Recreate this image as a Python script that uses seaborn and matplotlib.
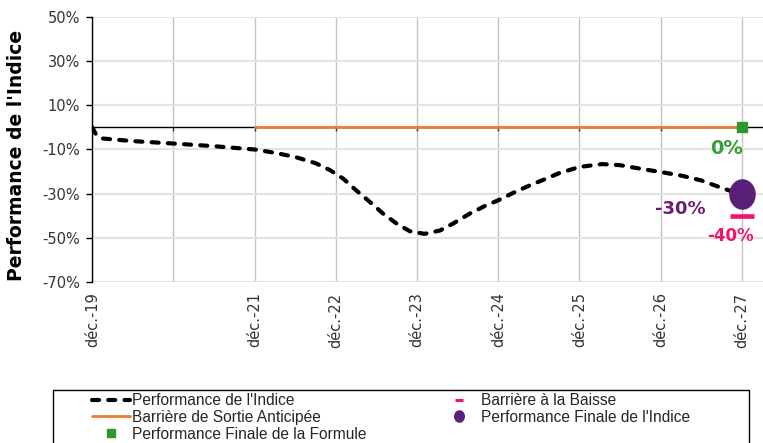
import numpy as np
import pandas as pd
import matplotlib
matplotlib.use("Agg")
import matplotlib.pyplot as plt
import seaborn as sns
from matplotlib.path import Path
from matplotlib.lines import Line2D
from matplotlib.patches import Rectangle
from matplotlib.ticker import FuncFormatter

# ---------------- data ----------------
index_dates = [2019.00, 2019.05, 2019.12, 2019.50, 2020.00, 2020.50, 2021.00, 2021.25,
               2021.50, 2021.75, 2021.93, 2022.09, 2022.25, 2022.42, 2022.58, 2022.75,
               2022.91, 2023.09, 2023.28, 2023.44, 2023.65, 2023.85, 2024.00, 2024.18,
               2024.39, 2024.55, 2024.75, 2025.00, 2025.28, 2025.50, 2025.75, 2026.00,
               2026.25, 2026.50, 2026.75, 2026.88]
index_perf = [0.0, -3.5, -5.0, -6.2, -7.3, -8.5, -10.0, -11.5,
              -13.4, -16.2, -19.4, -23.2, -28.5, -33.8, -39.0, -43.6,
              -47.0, -48.2, -46.7, -43.6, -39.0, -35.3, -33.0, -29.7,
              -26.2, -23.8, -20.7, -17.9, -16.6, -17.1, -18.7, -20.2,
              -21.8, -24.0, -27.4, -29.0]
exit_barrier_dates = [2021.0, 2027.0]
exit_barrier_level = [0.0, 0.0]
final_date = [2027.0]
final_formula = [0.0]
final_index = [-30.0]
down_barrier = [-40.0]
tick_years = [2019, 2020, 2021, 2022, 2023, 2024, 2025, 2026, 2027]
tick_labels = ["déc.-19", "", "déc.-21", "déc.-22", "déc.-23", "déc.-24",
               "déc.-25", "déc.-26", "déc.-27"]
y_ticks = [-70, -50, -30, -10, 10, 30, 50]
legend_labels = ["Performance de l'Indice", "Barrière de Sortie Anticipée",
                 "Performance Finale de la Formule", "Barrière à la Baisse",
                 "Performance Finale de l'Indice"]
ann_formula = "0%"
ann_index = "-30%"
ann_barrier = "-40%"

# ---------------- style ----------------
sns.set_theme(style="white")
plt.rcParams['font.family'] = ['DejaVu Sans']

C_ORANGE = "#ED7D31"
C_GREEN = "#2E962E"
C_GREEN_TXT = "#3A9C3A"
C_PURPLE = "#5A1F78"
C_PURPLE_TXT = "#6B1E6E"
C_PINK = "#F2136E"
TICK_C = "#333333"

W, H = 763, 443
fig = plt.figure(figsize=(W / 100, H / 100), dpi=100)
ax = fig.add_axes([92.3 / W, 1 - 282 / H, 1 - 92.3 / W, (282 - 17) / H])

df_idx = pd.DataFrame({"date": index_dates, "perf": index_perf})
df_bar = pd.DataFrame({"date": exit_barrier_dates, "level": exit_barrier_level})

sns.lineplot(data=df_bar, x="date", y="level", ax=ax, color=C_ORANGE, lw=2.0,
             estimator=None, legend=False, zorder=3)
sns.lineplot(data=df_idx, x="date", y="perf", ax=ax, color="black", lw=3.0,
             linestyle=(0, (1.7, 2.2)), dash_capstyle="round",
             estimator=None, legend=False, zorder=4)

theta = np.linspace(0, 2 * np.pi, 73)
ellipse = Path(np.column_stack([0.43 * np.cos(theta), 0.5 * np.sin(theta)]), closed=True)

ax.plot(final_date, final_formula, ls="none", marker="s", ms=7.5, color=C_GREEN, zorder=6)
ax.plot(final_date, final_index, ls="none", marker=ellipse, ms=21, color=C_PURPLE,
        mec=C_PURPLE, zorder=6)
ax.plot(final_date, down_barrier, ls="none", marker="_", ms=17.3, mew=3.3,
        color=C_PINK, zorder=6)

ax.annotate(ann_formula, (final_date[0], final_formula[0]), xytext=(-11, -15),
            textcoords="offset points", ha="center", va="center",
            fontsize=14, fontweight="bold", color=C_GREEN_TXT)
ax.annotate(ann_index, (final_date[0], final_index[0]), xytext=(-44.6, -11.3),
            textcoords="offset points", ha="center", va="center",
            fontsize=13, fontweight="bold", color=C_PURPLE_TXT)
ax.annotate(ann_barrier, (final_date[0], down_barrier[0]), xytext=(-8.6, -14.9),
            textcoords="offset points", ha="center", va="center",
            fontsize=12, fontweight="bold", color=C_PINK)

# axes
ax.set_xlim(2019, 2019 + (763 - 92.3) / 81.2)
ax.set_ylim(-70, 50)
ax.set_yticks(y_ticks)
ax.yaxis.set_major_formatter(FuncFormatter(lambda v, p: f"{v:.0f}%"))
ax.set_xticks(tick_years)
ax.set_xlabel("")
ax.set_ylabel("")

for s in ["top", "right"]:
    ax.spines[s].set_visible(False)
ax.spines["left"].set_color("black")
ax.spines["left"].set_linewidth(1.0)
ax.spines["bottom"].set_position(("data", 0))
ax.spines["bottom"].set_color("black")
ax.spines["bottom"].set_linewidth(1.0)
ax.spines["bottom"].set_zorder(2.5)

ax.tick_params(axis="y", left=True, length=4, width=1, color="black", pad=5,
               labelsize=10.5, labelcolor=TICK_C)
ax.tick_params(axis="x", bottom=True, length=3, width=1, color="#333333",
               labelbottom=False)

ax.set_axisbelow(True)
ax.grid(axis="x", color="#C4C4C4", lw=1.0)
ax.grid(axis="y", color="#E3E3E3", lw=1.5)

sec = ax.secondary_xaxis(0)
sec.set_ticks(tick_years, labels=tick_labels)
sec.tick_params(length=0, pad=7.5, labelsize=10.5, labelcolor=TICK_C, labelrotation=90)
for s in sec.spines.values():
    s.set_visible(False)

fig.text(17 / W, 1 - 155 / H, "Performance de l'Indice", rotation=90, ha="center",
         va="center", fontsize=13.5, fontweight="bold", color="black")

# legend
h_line = Line2D([], [], color="black", lw=3.0, ls=(0, (1.7, 2.2)), dash_capstyle="round")
h_orange = Line2D([], [], color=C_ORANGE, lw=2.0)
h_square = Line2D([], [], ls="none", marker="s", ms=5.5, color=C_GREEN)
h_pink = Line2D([], [], ls="none", marker="_", ms=6, mew=2.2, color=C_PINK)
h_ell = Line2D([], [], ls="none", marker=ellipse, ms=8, color=C_PURPLE)

leg_prop = {"family": ["Liberation Sans", "DejaVu Sans"], "size": 11.2}
common = dict(loc="upper left", bbox_transform=fig.transFigure, frameon=False,
              borderpad=0, borderaxespad=0, handlelength=2.45, handletextpad=0.15,
              labelspacing=0.12, prop=leg_prop)
leg1 = fig.legend([h_line, h_orange, h_square], legend_labels[:3],
                  bbox_to_anchor=(91.7 / W, 1 - 393 / H), **common)
leg2 = fig.legend([h_pink, h_ell], legend_labels[3:],
                  bbox_to_anchor=(440.2 / W, 1 - 393 / H), **common)

frame = Rectangle((52.7 / W, -0.05), (748.8 - 52.7) / W, (443 - 390) / H + 0.05,
                  transform=fig.transFigure, fill=False, ec="black", lw=1.0)
fig.patches.append(frame)

fig.savefig("out.png", dpi=100)
